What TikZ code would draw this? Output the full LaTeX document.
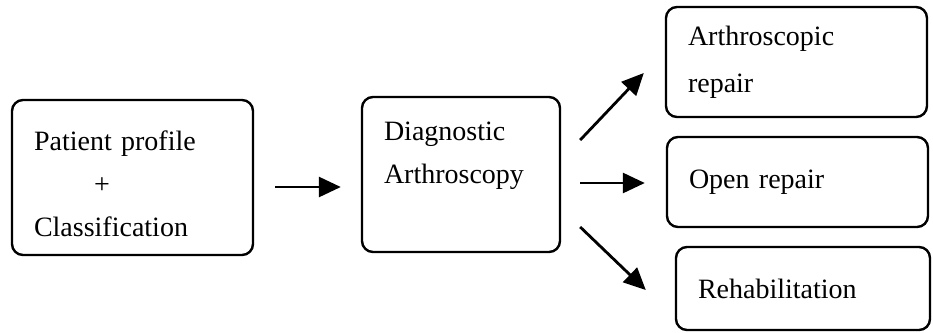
\documentclass[tikz,border=0pt]{standalone}
\usepackage{fontspec}
\setmainfont{Liberation Serif}
\usepackage{tikz}
\usetikzlibrary{positioning, arrows.meta}

\begin{document}
\begin{tikzpicture}[
    x=1pt, y=-1pt,
    box/.style={draw, line width=2.4pt, rectangle, rounded corners=11pt, align=left,
        inner xsep=22pt, font=\fontsize{28}{43}\selectfont},
    arr/.style={line width=2.8pt, -{Triangle[length=22pt, width=20pt]}}
]
\useasboundingbox (0,0) rectangle (933,332);

% Boxes
\node[box, minimum width=241pt, minimum height=155pt, text width=197pt] (prof) at (132.5,177.5)
    {\\[-10pt]Patient profile\\\hspace*{60pt}+\\Classification};
\node[box, minimum width=198pt, minimum height=155pt, text width=154pt] (diag) at (461,174.5)
    {Diagnostic\\Arthroscopy\\\mbox{}};
\node[box, minimum width=261pt, minimum height=110pt, text width=217pt,
    font=\fontsize{28}{47}\selectfont] (arep) at (796.5,62)
    {Arthroscopic\\repair};
\node[box, minimum width=261pt, minimum height=90pt, text width=217pt] (orep) at (797.5,182)
    {Open repair};
\node[box, minimum width=254pt, minimum height=83pt, text width=210pt] (rehab) at (803,288.5)
    {Rehabilitation};

% Arrows
\draw[arr] ([shift={(21,9.5)}]prof.east) -- ([shift={(-20,12.5)}]diag.west);
\draw[arr] ([shift={(19,-34.5)}]diag.east) -- ([shift={(-21,11)}]arep.west);
\draw[arr] ([shift={(19,8.5)}]diag.east) -- ([shift={(-21,1)}]orep.west);
\draw[arr] ([shift={(19,52.5)}]diag.east) -- ([shift={(-29,1.5)}]rehab.west);
\end{tikzpicture}
\end{document}
